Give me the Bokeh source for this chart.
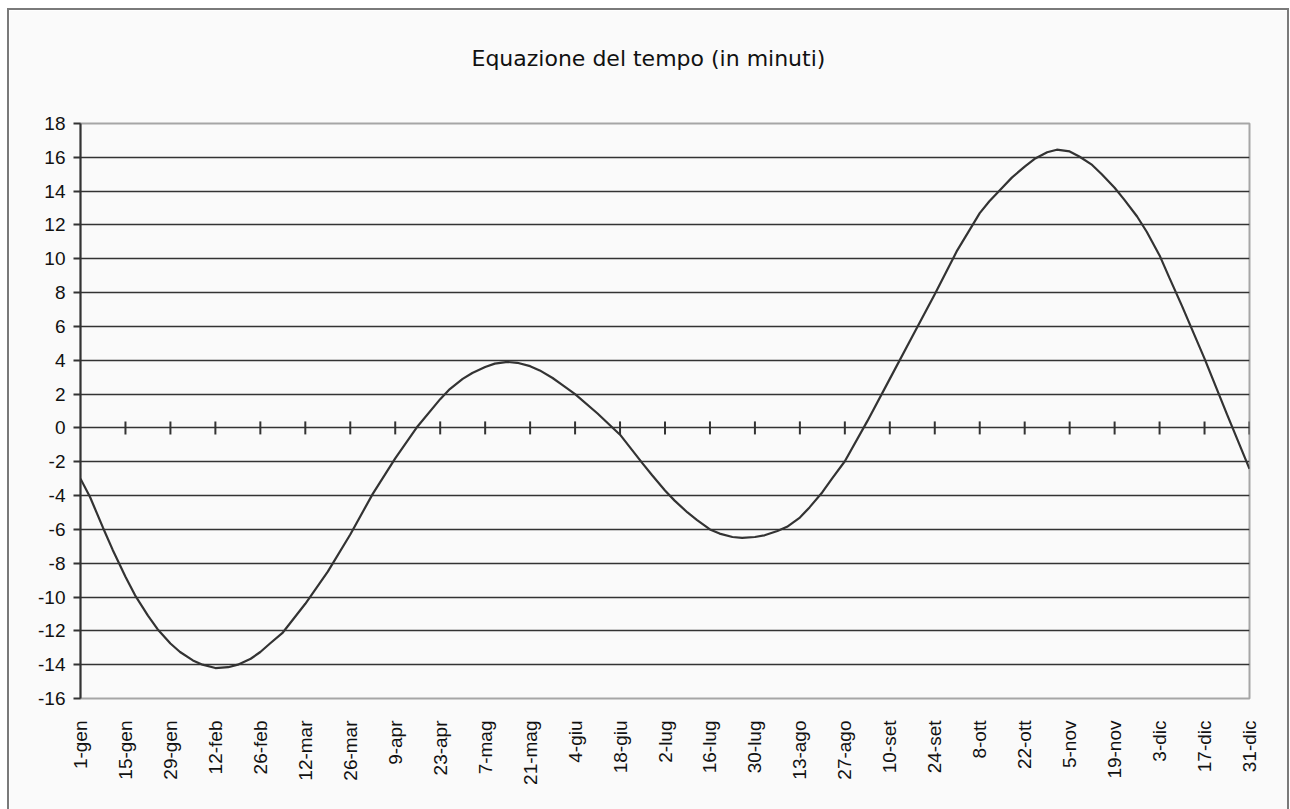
from math import pi
from bokeh.plotting import figure
from bokeh.models import Range1d, FixedTicker, Title
from bokeh.embed import file_html
from bokeh.resources import INLINE

# Day of year and equation of time in minutes
days = [1, 4, 8, 11, 15, 18, 22, 25, 29, 32, 36, 39, 43, 47, 50, 54, 57, 60, 64,
        71, 78, 85, 92, 99, 106, 113, 116, 120, 123, 127, 130, 134, 137, 141, 144,
        148, 151, 155, 162, 169, 176, 179, 183, 186, 190, 193, 197, 200, 204, 207,
        211, 214, 218, 221, 225, 228, 232, 235, 239, 246, 253, 260, 267, 274, 281,
        284, 288, 291, 295, 298, 302, 305, 309, 312, 316, 319, 323, 326, 330, 333,
        337, 340, 344, 351, 358, 365]
minutes = [-3.0, -4.1, -5.9, -7.2, -8.8, -9.9, -11.1, -11.9, -12.75, -13.25, -13.75,
           -14.0, -14.2, -14.15, -14.0, -13.65, -13.25, -12.75, -12.1, -10.4, -8.5,
           -6.3, -3.9, -1.8, 0.1, 1.7, 2.3, 2.9, 3.25, 3.6, 3.8, 3.9, 3.85, 3.65,
           3.4, 2.95, 2.55, 2.0, 0.85, -0.4, -2.1, -2.8, -3.7, -4.3, -5.0, -5.45,
           -6.0, -6.25, -6.45, -6.5, -6.45, -6.35, -6.1, -5.85, -5.3, -4.7, -3.8,
           -3.0, -1.97, 0.4, 2.9, 5.4, 7.9, 10.5, 12.7, 13.4, 14.2, 14.8, 15.45,
           15.9, 16.3, 16.45, 16.35, 16.05, 15.55, 15.0, 14.2, 13.5, 12.5, 11.6,
           10.2, 8.9, 7.2, 4.1, 0.8, -2.42]

# Category labels (every 14 days)
label_days = [1, 15, 29, 43, 57, 71, 85, 99, 113, 127, 141, 155, 169, 183, 197,
              211, 225, 239, 253, 267, 281, 295, 309, 323, 337, 351, 365]
label_texts = ["1-gen", "15-gen", "29-gen", "12-feb", "26-feb", "12-mar", "26-mar",
               "9-apr", "23-apr", "7-mag", "21-mag", "4-giu", "18-giu", "2-lug",
               "16-lug", "30-lug", "13-ago", "27-ago", "10-set", "24-set", "8-ott",
               "22-ott", "5-nov", "19-nov", "3-dic", "17-dic", "31-dic"]
y_ticks = list(range(-16, 19, 2))

BG = "#fafafa"
DARK = "#333333"

p = figure(width=1282, height=805, output_backend="svg", toolbar_location=None,
           x_range=Range1d(1, 365), y_range=Range1d(-16, 18),
           min_border_left=71, min_border_right=42, min_border_top=113,
           min_border_bottom=117, background_fill_color=BG, border_fill_color=BG)
p.styles = {"border": "2px solid #7a7a7a"}
p.margin = (8, 0, 0, 7)

# spacer between the title and the plot area
p.add_layout(Title(text=" ", text_font_size="8px", standoff=9), "above")

p.title.text = "Equazione del tempo (in minuti)"
p.title.align = "left"
p.title.text_font = "DejaVu Sans"
p.title.text_font_style = "normal"
p.title.text_font_size = "22px"
p.title.text_color = "#111111"
p.title.offset = 391
p.title.standoff = 65

p.outline_line_color = "#a6a6a6"
p.outline_line_width = 2

# y axis
yax = p.yaxis[0]
yax.ticker = FixedTicker(ticks=y_ticks)
yax.major_label_overrides = {t: str(t) for t in y_ticks}
yax.axis_line_color = DARK
yax.axis_line_width = 2
yax.major_tick_line_color = DARK
yax.major_tick_line_width = 2
yax.major_tick_out = 7
yax.major_tick_in = 0
yax.minor_tick_line_color = None
yax.major_label_text_font = "Liberation Sans"
yax.major_label_text_font_size = "19px"
yax.major_label_text_color = "#111111"
yax.major_label_standoff = 8

# x axis (labels only)
xax = p.xaxis[0]
xax.ticker = FixedTicker(ticks=label_days)
xax.major_label_overrides = {d: t for d, t in zip(label_days, label_texts)}
xax.major_label_orientation = pi / 2
xax.axis_line_color = None
xax.major_tick_line_color = None
xax.minor_tick_line_color = None
xax.major_label_text_font = "Liberation Sans"
xax.major_label_text_font_size = "19px"
xax.major_label_text_color = "#111111"
xax.major_label_standoff = 16

# grid
p.xgrid.grid_line_color = None
p.ygrid.ticker = FixedTicker(ticks=[t for t in y_ticks if -16 < t < 18])
p.ygrid.grid_line_color = DARK
p.ygrid.grid_line_width = 1.6

# tick marks on the zero line (category axis crossing at 0)
p.scatter(x=label_days[1:], y=[0] * (len(label_days) - 1), marker="dash",
          angle=pi / 2, size=13, line_color=DARK, line_width=2)

p.line(days, minutes, line_color=DARK, line_width=2.2)

open("out.html", "w").write(file_html(p, INLINE))
